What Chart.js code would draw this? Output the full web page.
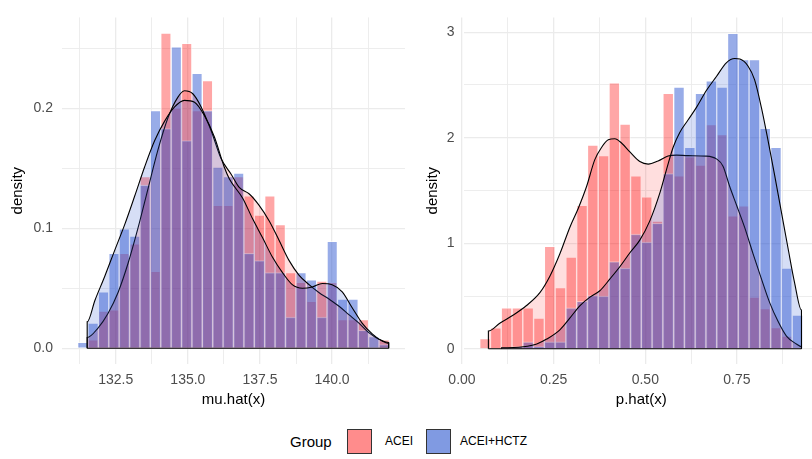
<!DOCTYPE html>
<html>
<head>
<meta charset="utf-8">
<title>mu.hat / p.hat density by group</title>
<script src="https://cdn.jsdelivr.net/npm/chart.js@4.4.0/dist/chart.umd.min.js"></script>
<style>
  html, body { margin: 0; padding: 0; background: #fff; overflow: hidden; }
  #wrap { position: relative; width: 812px; height: 459px; overflow: hidden; font-family: "Liberation Sans", Arial, sans-serif; }
  #cvLeft { position: absolute; left: 0; top: 0; }
  #cvRight { position: absolute; left: 410px; top: 0; }
  #legend { position: absolute; left: 0; top: 429px; width: 812px; height: 25px; }
  #legend span { position: absolute; top: 0; line-height: 25px; white-space: nowrap; }
  #legend .ttl { font-size: 15px; color: #000; }
  #legend .lab { font-size: 12px; color: #000; }
  #legend .key { width: 23px; height: 23px; border: 1px solid #333; }
</style>
</head>
<body>
<div id="wrap">
  <canvas id="cvLeft" width="410" height="415"></canvas>
  <canvas id="cvRight" width="409" height="415"></canvas>
  <div id="legend"></div>
</div>
<script>
const groups = ["ACEI", "ACEI+HCTZ"];

// left panel: mu.hat(x), 30 bins
const muBins = [131.357, 131.717, 132.078, 132.438, 132.798, 133.159, 133.519, 133.879, 134.239, 134.600,
  134.960, 135.320, 135.681, 136.041, 136.401, 136.762, 137.122, 137.482, 137.842, 138.203,
  138.563, 138.923, 139.284, 139.644, 140.004, 140.365, 140.725, 141.085, 141.445, 141.806];
const muAcei = [0, 0.007, 0.031, 0.032, 0.079, 0.087, 0.143, 0.064, 0.2625, 0.200,
  0.254, 0.198, 0.223, 0.119, 0.119, 0.143, 0.127, 0.111, 0.127, 0.103,
  0.063, 0.055, 0.039, 0.056, 0.055, 0.024, 0.024, 0.024, 0, 0.007];
const muHctz = [0.005, 0.021, 0.047, 0.079, 0.0995, 0.0935, 0.136, 0.198, 0.183, 0.251,
  0.173, 0.229, 0.198, 0.151, 0.143, 0.146, 0.079, 0.073, 0.063, 0.063,
  0.026, 0.063, 0.057, 0.026, 0.089, 0.041, 0.041, 0.015, 0.0097, 0.003];

const muDensAceiX = [131.51, 131.51, 131.89, 132.23, 132.58, 132.93, 133.27, 133.62, 133.96, 134.31, 134.65, 134.88,
  135.17, 135.46, 135.81, 136.15, 136.50, 136.78, 137.13, 137.47, 137.82, 138.16, 138.51, 138.85,
  139.20, 139.54, 139.89, 140.24, 140.58, 140.93, 141.27, 141.62, 141.96, 141.96];
const muDensAceiY = [0, 0.009, 0.017, 0.029, 0.0465, 0.071, 0.100, 0.133, 0.165, 0.192, 0.209, 0.2145,
  0.212, 0.201, 0.181, 0.158, 0.145, 0.134, 0.1285, 0.119, 0.106, 0.090, 0.073, 0.061,
  0.053, 0.0465, 0.041, 0.035, 0.028, 0.021, 0.013, 0.0076, 0.0048, 0];
const muDensHctzX = [131.51, 131.51, 131.78, 132.12, 132.47, 132.81, 133.16, 133.50, 133.85, 134.19, 134.54, 134.88,
  135.23, 135.57, 135.92, 136.26, 136.44, 136.90, 137.24, 137.59, 137.93, 138.28, 138.62, 138.97,
  139.31, 139.66, 140.00, 140.35, 140.69, 141.04, 141.39, 141.73, 141.96, 141.96];
const muDensHctzY = [0, 0.022, 0.040, 0.060, 0.082, 0.103, 0.127, 0.151, 0.173, 0.189, 0.201, 0.2065,
  0.205, 0.194, 0.176, 0.151, 0.141, 0.125, 0.108, 0.092, 0.076, 0.063, 0.053, 0.050,
  0.051, 0.054, 0.053, 0.047, 0.034, 0.021, 0.012, 0.006, 0.004, 0];

const muXTicks = [131.25, 132.5, 133.75, 135, 136.25, 137.5, 138.75, 140, 141.25];
const muXLabels = ["", "132.5", "", "135.0", "", "137.5", "", "140.0", ""];
const muYTicks = [0, 0.05, 0.1, 0.15, 0.2, 0.25];
const muYLabels = ["0.0", "", "0.1", "", "0.2", ""];

// right panel: p.hat(x), 30 bins
const pBins = [0.0629, 0.0923, 0.1217, 0.1511, 0.1805, 0.2099, 0.2393, 0.2686, 0.2980, 0.3274,
  0.3568, 0.3862, 0.4156, 0.4450, 0.4744, 0.5038, 0.5332, 0.5626, 0.5920, 0.6214,
  0.6507, 0.6801, 0.7095, 0.7389, 0.7683, 0.7977, 0.8271, 0.8565, 0.8859, 0.9153];
const pAcei = [0.098, 0.199, 0.388, 0.388, 0.388, 0.29, 0.97, 0.58, 0.87, 1.36,
  1.93, 1.83, 2.52, 2.13, 1.64, 1.44, 1.21, 2.42, 1.64, 1.82,
  1.74, 2.125, 2.03, 1.26, 1.355, 0.49, 0.38, 0.2, 0.12, 0];
const pHctz = [0, 0, 0.01, 0.02, 0.067, 0.02, 0.067, 0.067, 0.388, 0.45,
  0.505, 0.5, 0.826, 0.765, 1.086, 1.01, 1.19, 1.66, 2.48, 1.91,
  2.42, 2.54, 2.48, 2.99, 2.74, 2.74, 2.09, 1.91, 0.765, 0.32];

const pDensAceiX = [0.072, 0.072, 0.104, 0.140, 0.176, 0.213, 0.240, 0.267, 0.294, 0.317, 0.340, 0.362,
  0.381, 0.399, 0.417, 0.435, 0.458, 0.485, 0.508, 0.535, 0.562, 0.585, 0.617, 0.667,
  0.694, 0.712, 0.730, 0.749, 0.771, 0.794, 0.817, 0.839, 0.862, 0.885, 0.912, 0.926, 0.926];
const pDensAceiY = [0, 0.168, 0.245, 0.32, 0.41, 0.535, 0.69, 0.90, 1.15, 1.33, 1.54, 1.79,
  1.91, 1.98, 1.99, 1.95, 1.865, 1.774, 1.75, 1.78, 1.826, 1.835, 1.83, 1.826,
  1.80, 1.73, 1.54, 1.36, 1.15, 0.90, 0.66, 0.44, 0.26, 0.12, 0.046, 0.02, 0];
const pDensHctzX = [0.108, 0.108, 0.167, 0.204, 0.231, 0.267, 0.294, 0.322, 0.349, 0.376, 0.403, 0.431,
  0.458, 0.485, 0.512, 0.540, 0.558, 0.576, 0.594, 0.617, 0.640, 0.667, 0.694, 0.721,
  0.744, 0.758, 0.780, 0.798, 0.817, 0.835, 0.853, 0.871, 0.889, 0.907, 0.926, 0.926];
const pDensHctzY = [0, 0.01, 0.02, 0.046, 0.092, 0.18, 0.29, 0.41, 0.49, 0.55, 0.66, 0.78,
  0.91, 1.03, 1.21, 1.48, 1.70, 1.91, 2.05, 2.17, 2.29, 2.45, 2.58, 2.71,
  2.75, 2.745, 2.68, 2.55, 2.28, 1.97, 1.64, 1.30, 0.96, 0.63, 0.367, 0];

const pXTicks = [0, 0.125, 0.25, 0.375, 0.5, 0.625, 0.75, 0.875];
const pXLabels = ["0.00", "", "0.25", "", "0.50", "", "0.75", ""];
const pYTicks = [0, 0.5, 1, 1.5, 2, 2.5, 3];
const pYLabels = ["0", "", "1", "", "2", "", "3"];

const barFill = ["rgba(255, 0, 0, 0.35)", "rgba(50, 90, 210, 0.5)"];
const densFill = ["rgba(255, 0, 0, 0.13)", "rgba(50, 90, 210, 0.2)"];
const keyFill = ["rgb(255, 140, 140)", "rgb(128, 154, 226)"];
const FONT = "'Liberation Sans', Arial, sans-serif";

function toPoints(xs, ys) {
  return xs.map(function (x, i) { return { x: x, y: ys[i] }; });
}

function histSet(xs, ys, g) {
  return {
    type: "bar",
    label: groups[g],
    data: toPoints(xs, ys),
    backgroundColor: barFill[g],
    borderColor: "rgba(255, 255, 255, 0.55)",
    borderWidth: 1,
    grouped: false,
    barPercentage: 1,
    categoryPercentage: 1,
    order: 5 - g,
  };
}

function densSet(xs, ys, g) {
  return {
    type: "line",
    label: groups[g] + " density",
    data: toPoints(xs, ys),
    borderColor: "#000",
    borderWidth: 1.1,
    backgroundColor: densFill[g],
    fill: "origin",
    pointRadius: 0,
    cubicInterpolationMode: "monotone",
    order: 3 - g,
  };
}

function buildPanel(id, p) {
  const lo = Math.min(p.densX[0][0], p.densX[1][0]);
  const hi = Math.max(p.densX[0][p.densX[0].length - 1], p.densX[1][p.densX[1].length - 1]);
  const majorX = (ctx) => (p.xLabels[ctx.index] ? 1.3 : 0.9);
  const majorY = (ctx) => (p.yLabels[ctx.index] ? 1.3 : 0.9);

  return new Chart(document.getElementById(id).getContext("2d"), {
    type: "bar",
    data: {
      datasets: [
        histSet(p.bins, p.hist[0], 0),
        histSet(p.bins, p.hist[1], 1),
        densSet(p.densX[0], p.densY[0], 0),
        densSet(p.densX[1], p.densY[1], 1),
        {
          type: "line",
          label: "baseline",
          data: [{ x: lo, y: 0 }, { x: hi, y: 0 }],
          borderColor: "#000",
          borderWidth: 1.1,
          pointRadius: 0,
          fill: false,
          order: 0,
        },
      ],
    },
    options: {
      responsive: false,
      animation: false,
      devicePixelRatio: 1,
      layout: { padding: { top: 6, right: p.padRight, left: 0, bottom: 0 } },
      plugins: { legend: { display: false }, tooltip: { enabled: false } },
      scales: {
        x: {
          type: "linear",
          min: p.xMin,
          max: p.xMax,
          offset: false,
          border: { display: false },
          grid: { color: "#ebebeb", lineWidth: majorX, drawTicks: false, offset: false },
          afterBuildTicks: (s) => { s.ticks = p.xTicks.map((v) => ({ value: v })); },
          afterFit: (s) => { s.height = 51; },
          ticks: {
            autoSkip: false,
            maxRotation: 0,
            padding: 8,
            color: "#4d4d4d",
            font: { family: FONT, size: 14 },
            callback: (v, i) => p.xLabels[i],
          },
          title: {
            display: true,
            text: p.xTitle,
            color: "#000",
            font: { family: FONT, size: 15 },
            padding: { top: 0, bottom: 6 },
          },
        },
        y: {
          min: p.yMin,
          max: p.yMax,
          border: { display: false },
          grid: { color: "#ebebeb", lineWidth: majorY, drawTicks: false },
          afterBuildTicks: (s) => { s.ticks = p.yTicks.map((v) => ({ value: v })); },
          afterFit: (s) => { s.width = p.yAxisWidth; },
          ticks: {
            autoSkip: false,
            padding: 9,
            color: "#4d4d4d",
            font: { family: FONT, size: 14 },
            callback: (v, i) => p.yLabels[i],
          },
          title: {
            display: true,
            text: "density",
            color: "#000",
            font: { family: FONT, size: 15 },
            padding: { top: p.yTitlePad, bottom: 0 },
          },
        },
      },
    },
  });
}

buildPanel("cvLeft", {
  bins: muBins, hist: [muAcei, muHctz],
  densX: [muDensAceiX, muDensHctzX], densY: [muDensAceiY, muDensHctzY],
  xTicks: muXTicks, xLabels: muXLabels, yTicks: muYTicks, yLabels: muYLabels,
  xMin: 130.637, xMax: 142.526, yMin: -0.0131, yMax: 0.2756,
  xTitle: "mu.hat(x)", padRight: 5, yAxisWidth: 62, yTitlePad: 9,
});

buildPanel("cvRight", {
  bins: pBins, hist: [pAcei, pHctz],
  densX: [pDensAceiX, pDensHctzX], densY: [pDensAceiY, pDensHctzY],
  xTicks: pXTicks, xLabels: pXLabels, yTicks: pYTicks, yLabels: pYLabels,
  xMin: 0.0041, xMax: 0.9738, yMin: -0.144, yMax: 3.14,
  xTitle: "p.hat(x)", padRight: 0, yAxisWidth: 53.5, yTitlePad: 14,
});

// legend below both panels
const legend = document.getElementById("legend");
const items = [
  { cls: "ttl", text: "Group", left: 290 },
  { cls: "key", fill: keyFill[0], left: 347 },
  { cls: "lab", text: groups[0], left: 385 },
  { cls: "key", fill: keyFill[1], left: 426 },
  { cls: "lab", text: groups[1], left: 460 },
];
items.forEach(function (it) {
  const s = document.createElement("span");
  s.className = it.cls;
  s.style.left = it.left + "px";
  if (it.text) s.textContent = it.text;
  if (it.fill) s.style.background = it.fill;
  legend.appendChild(s);
});
</script>
</body>
</html>
